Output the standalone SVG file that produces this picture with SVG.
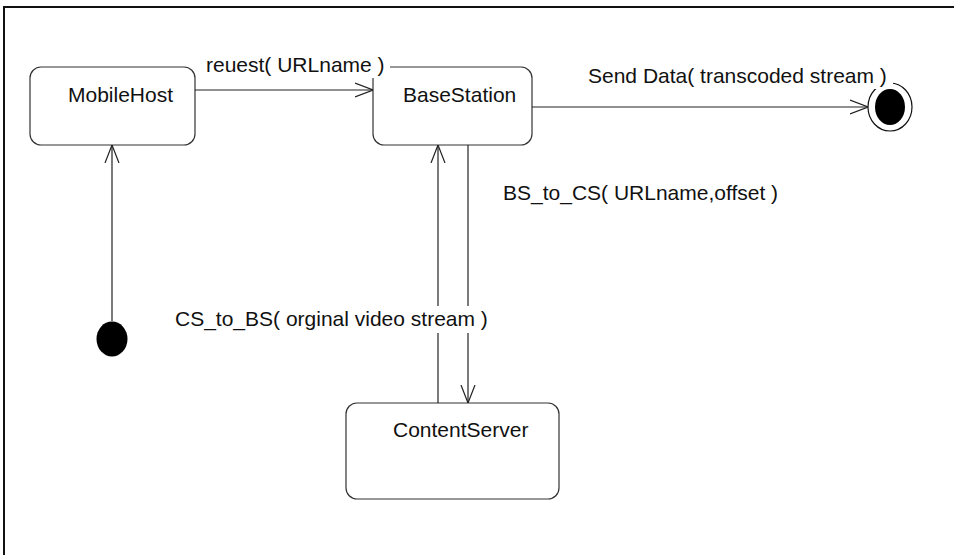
<svg xmlns="http://www.w3.org/2000/svg" width="954" height="555" viewBox="0 0 954 555">
  <style>
    .node { fill: #ffffff; stroke: #333333; stroke-width: 1.2; }
    .lbl { font-family: "Liberation Sans", Arial, sans-serif; font-size: 21px; fill: #111111; }
    .edge { fill: none; stroke: #222222; stroke-width: 1.2; }
    .bg { fill: #ffffff; }
  </style>
  <defs>
    <marker id="open" viewBox="0 0 18 16" refX="18" refY="8" markerWidth="18" markerHeight="16" markerUnits="userSpaceOnUse" orient="auto">
      <path d="M0,1 L18,8 L0,15" fill="none" stroke="#222222" stroke-width="1.2"/>
    </marker>
  </defs>
  <rect x="0" y="0" width="954" height="555" fill="#ffffff"/>
  <rect x="4" y="7" width="1000" height="600" fill="none" stroke="#111111" stroke-width="2"/>

  <g id="MobileHost">
    <rect class="node" x="30" y="67" width="165" height="78" rx="11"/>
    <text class="lbl" x="68" y="102">MobileHost</text>
  </g>
  <g id="BaseStation">
    <rect class="node" x="373" y="67" width="159" height="78" rx="11"/>
    <text class="lbl" x="403" y="102">BaseStation</text>
  </g>
  <g id="ContentServer">
    <rect class="node" x="346" y="403" width="213" height="96" rx="11"/>
    <text class="lbl" x="393" y="437">ContentServer</text>
  </g>
  <g id="Initial">
    <ellipse cx="112" cy="339" rx="15.5" ry="17.5" fill="#000000"/>
  </g>
  <g id="Final">
    <ellipse cx="890" cy="107" rx="22" ry="24" fill="none" stroke="#111111" stroke-width="1.2"/>
    <ellipse cx="890" cy="107" rx="15" ry="18" fill="#000000"/>
  </g>

  <g id="connectors">
    <line class="edge" x1="112" y1="321" x2="112" y2="145" marker-end="url(#open)"/>
    <line class="edge" x1="195" y1="90" x2="373" y2="90" marker-end="url(#open)"/>
    <line class="edge" x1="532" y1="107" x2="868" y2="107" marker-end="url(#open)"/>
    <line class="edge" x1="468" y1="145" x2="468" y2="403" marker-end="url(#open)"/>
    <line class="edge" x1="438" y1="403" x2="438" y2="145" marker-end="url(#open)"/>

    <g id="label-request">
      <rect class="bg" x="204" y="53" width="186" height="25"/>
      <text class="lbl" x="206" y="72">reuest( URLname )</text>
    </g>
    <g id="label-send">
      <rect class="bg" x="586" y="63" width="307" height="26"/>
      <text class="lbl" x="588" y="83">Send Data( transcoded stream )</text>
    </g>
    <g id="label-bs-cs">
      <text class="lbl" x="503" y="200">BS_to_CS( URLname,offset )</text>
    </g>
    <g id="label-cs-bs">
      <rect class="bg" x="172" y="306" width="324" height="27"/>
      <text class="lbl" x="175" y="326">CS_to_BS( orginal video stream )</text>
    </g>
  </g>
</svg>
